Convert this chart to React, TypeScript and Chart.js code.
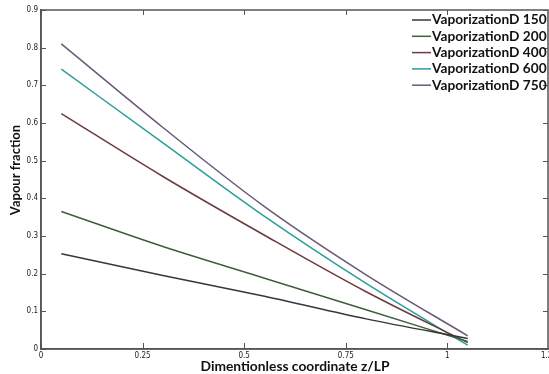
import React, { useEffect, useRef } from "react";
import { Chart, registerables } from "chart.js";

Chart.register(...registerables);

const xValues = [0.05, 0.3, 0.55, 0.8, 1.05];
const seriesLabels = [
  "VaporizationD 150",
  "VaporizationD 200",
  "VaporizationD 400",
  "VaporizationD 600",
  "VaporizationD 750",
];
const d150 = [0.253, 0.195, 0.14, 0.08, 0.028];
const d200 = [0.365, 0.272, 0.188, 0.104, 0.02];
const d400 = [0.625, 0.458, 0.302, 0.152, 0.017];
const d600 = [0.743, 0.547, 0.352, 0.174, 0.01];
const d750 = [0.81, 0.588, 0.378, 0.197, 0.035];
const seriesColors = ["#33383d", "#3f5e3a", "#6e3a3c", "#2a9e9a", "#6a5878"];
const xAxisTitle = "Dimentionless coordinate z/LP";
const yAxisTitle = "Vapour fraction";

const allSeries = [d150, d200, d400, d600, d750];

const fmt = (v: number) => String(Number(v.toFixed(2)));

const framePlugin = {
  id: "frameAndLegend",
  afterDraw(chart: any) {
    const ctx: CanvasRenderingContext2D = chart.ctx;
    const a = chart.chartArea;
    const xs = chart.scales.x;
    const ys = chart.scales.y;
    const L = a.left;
    const R = a.right;
    const T = a.top;
    const B = a.bottom;
    ctx.save();
    ctx.setLineDash([]);
    ctx.globalAlpha = 1;
    ctx.strokeStyle = "#555555";
    ctx.lineWidth = 1.5;
    ctx.beginPath();
    ctx.moveTo(L, B);
    ctx.lineTo(L, T);
    ctx.lineTo(R - 1, T);
    ctx.lineTo(R - 1, B);
    ctx.lineTo(L, B);
    ctx.stroke();

    ctx.lineWidth = 1;
    ctx.beginPath();
    for (const t of xs.ticks) {
      const px = Math.round(xs.getPixelForValue(t.value)) + 0.5;
      ctx.moveTo(px, B);
      ctx.lineTo(px, B - 6);
      ctx.moveTo(px, T);
      ctx.lineTo(px, T + 5);
    }
    for (const t of ys.ticks) {
      const py = Math.round(ys.getPixelForValue(t.value)) + 0.5;
      ctx.moveTo(L, py);
      ctx.lineTo(L + 5, py);
      ctx.moveTo(R - 1, py);
      ctx.lineTo(R - 6, py);
    }
    ctx.stroke();

    // legend
    ctx.font = "bold 13.7px Lato, 'Open Sans', sans-serif";
    ctx.textBaseline = "middle";
    ctx.textAlign = "left";
    chart.data.datasets.forEach((ds: any, i: number) => {
      const y = 20 + i * 16.3;
      ctx.strokeStyle = ds.borderColor;
      ctx.lineWidth = 1.5;
      ctx.beginPath();
      ctx.moveTo(412, y);
      ctx.lineTo(431, y);
      ctx.stroke();
      ctx.fillStyle = "#111";
      ctx.fillText(ds.label, 432, y);
    });

    // axis titles
    ctx.fillStyle = "#111";
    ctx.font = "bold 13.8px Lato, 'Open Sans', sans-serif";
    ctx.textAlign = "center";
    ctx.textBaseline = "middle";
    ctx.fillText(xAxisTitle, (L + R) / 2, 367);
    ctx.font = "bold 13px Lato, 'Open Sans', sans-serif";
    ctx.save();
    ctx.translate(16, 170);
    ctx.rotate(-Math.PI / 2);
    ctx.fillText(yAxisTitle, 0, 0);
    ctx.restore();
    ctx.restore();
  },
};

export default function App() {
  const canvasRef = useRef<HTMLCanvasElement | null>(null);

  useEffect(() => {
    document.body.style.margin = "0";
    const canvas = canvasRef.current;
    if (!canvas) return;
    const tickFont = {
      family: "'Liberation Sans Narrow', 'DejaVu Sans Condensed', 'Liberation Sans', sans-serif",
      size: 8,
    };
    const gridOpts = {
      display: true,
      drawOnChartArea: false,
      drawTicks: false,
      color: "#555555",
    };
    const chart = new Chart(canvas, {
      type: "line",
      data: {
        datasets: allSeries.map((s, i) => ({
          label: seriesLabels[i],
          data: s.map((v, j) => ({ x: xValues[j], y: v })),
          borderColor: seriesColors[i],
          backgroundColor: seriesColors[i],
          borderWidth: 1.5,
          pointRadius: 0,
          cubicInterpolationMode: "monotone" as const,
          fill: false,
        })),
      },
      options: {
        responsive: false,
        animation: false,
        devicePixelRatio: 1,
        layout: { padding: { top: 10, right: 0, bottom: 0, left: 0 } },
        plugins: {
          legend: { display: false },
          tooltip: { enabled: false },
          title: { display: false },
        },
        scales: {
          x: {
            type: "linear",
            min: 0,
            max: 1.25,
            grid: gridOpts,
            border: { display: true, color: "#555555", width: 1.5 },
            ticks: {
              stepSize: 0.25,
              autoSkip: false,
              maxRotation: 0,
              padding: 2,
              color: "#222",
              font: tickFont,
              callback: (v: any) => fmt(Number(v)),
            },
            afterFit: (scale: any) => {
              scale.height = 25;
              scale.paddingRight = 0;
              scale.paddingLeft = 0;
            },
          },
          y: {
            type: "linear",
            min: 0,
            max: 0.9,
            grid: gridOpts,
            border: { display: true, color: "#555555", width: 1.5 },
            ticks: {
              stepSize: 0.1,
              autoSkip: false,
              padding: 3,
              color: "#222",
              font: tickFont,
              callback: (v: any) => fmt(Number(v)),
            },
            afterFit: (scale: any) => {
              scale.width = 41;
              scale.paddingTop = 0;
              scale.paddingBottom = 0;
            },
          },
        },
      },
      plugins: [framePlugin],
    });
    return () => chart.destroy();
  }, []);

  return (
    <div style={{ position: "fixed", left: 0, top: 0, width: 549, height: 374, background: "#fff" }}>
      <canvas ref={canvasRef} width={549} height={374} style={{ display: "block" }} />
    </div>
  );
}
